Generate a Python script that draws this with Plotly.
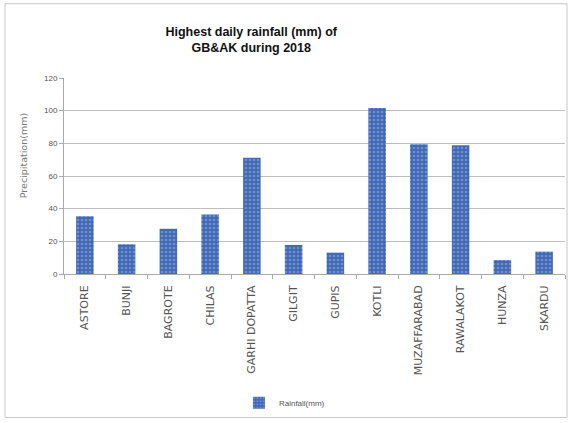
import plotly.graph_objects as go

stations = ["ASTORE", "BUNJI", "BAGROTE", "CHILAS", "GARHI DOPATTA", "GILGIT", "GUPIS",
            "KOTLI", "MUZAFFARABAD", "RAWALAKOT", "HUNZA", "SKARDU"]
rainfall = [35.3, 18.2, 27.7, 36.4, 71.2, 17.8, 13.1, 101.6, 79.4, 78.8, 8.5, 13.7]
y_ticks = [0, 20, 40, 60, 80, 100, 120]

fig = go.Figure()
fig.add_trace(go.Bar(
    x=stations, y=rainfall, name="Rainfall(mm)",
    marker=dict(color="#4068b4", line=dict(width=0),
                pattern=dict(shape=".", fgcolor="#9db4e3", size=4, solidity=0.35)),
    width=0.42,
))

fig.update_layout(
    width=571, height=423,
    margin=dict(l=64, r=6, t=78, b=147),
    paper_bgcolor="white", plot_bgcolor="white",
    title=dict(text="Highest daily rainfall (mm) of<br>GB&AK during 2018",
               x=0.44, xanchor="center", y=0.915, yanchor="top",
               font=dict(family="Liberation Sans", size=12.5, weight="bold", color="#111")),
    font=dict(family="Liberation Sans", color="#555"),
    showlegend=True,
    legend=dict(orientation="h", x=0.44, xanchor="center", y=-0.657, yanchor="middle",
                font=dict(size=8, color="#555"), itemwidth=30),
    xaxis=dict(showline=True, linecolor="#aaaaaa", ticks="outside", tickson="boundaries",
               ticklen=4, tickcolor="#aaaaaa", tickangle=-90, ticklabelstandoff=6,
               tickfont=dict(family="DejaVu Sans", size=11, color="#555")),
    yaxis=dict(range=[0, 120], tickvals=y_ticks, showline=True, linecolor="#aaaaaa",
               ticks="outside", ticklen=4, tickcolor="#aaaaaa",
               gridcolor="#bdbdbd", gridwidth=1,
               tickfont=dict(size=8, color="#555")),
    annotations=[dict(text="Precipitation(mm)", textangle=-90, xref="paper", yref="paper",
                      x=(23-64)/501, y=(276-157)/198, xanchor="center", yanchor="middle",
                      showarrow=False,
                      font=dict(family="DejaVu Sans", size=9.5, color="#777"))],
)

fig.add_shape(type="rect", xref="paper", yref="paper",
              x0=-59/501, x1=(567-64)/501, y0=-(421-276)/198, y1=(276-3)/198,
              line=dict(color="#c8c8c8", width=1))

fig.write_html("out.html")
